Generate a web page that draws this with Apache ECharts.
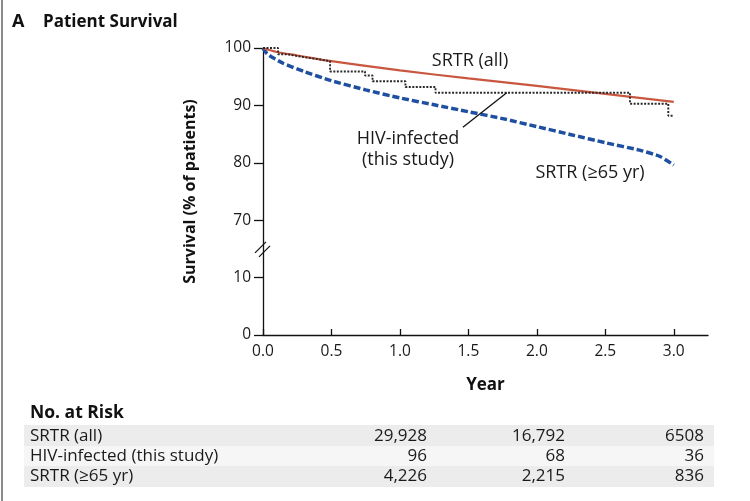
<!DOCTYPE html>
<html>
<head>
<meta charset="utf-8">
<script src="https://cdn.jsdelivr.net/npm/echarts@6/dist/echarts.min.js"></script>
<style>
html,body{margin:0;padding:0;background:#fff;}
#main{width:750px;height:501px;}
</style>
</head>
<body>
<div id="main"></div>
<script>
// ---- data ----
const srtrAllX = [0, 0.1, 0.25, 0.5, 1.0, 1.5, 2.0, 2.5, 3.0];
const srtrAllY = [100, 99.3, 98.7, 97.7, 96.1, 94.7, 93.4, 92.0, 90.6];

const srtr65X = [0, 0.03, 0.08, 0.15, 0.3, 0.5, 0.75, 1.0, 1.25, 1.5, 1.75, 2.0, 2.25, 2.5, 2.75, 2.9, 3.0];
const srtr65Y = [100, 99.0, 98.2, 97.3, 95.9, 94.3, 92.7, 91.3, 90.1, 88.9, 87.7, 86.3, 84.9, 83.5, 82.2, 81.1, 79.6];

const hivX = [0, 0.11, 0.18, 0.25, 0.33, 0.42, 0.49, 0.745, 0.80, 1.04, 1.26, 2.68, 2.96, 3.0];
const hivY = [100, 98.9, 98.6, 98.3, 98.0, 97.7, 95.9, 95.2, 94.2, 93.2, 92.2, 90.3, 88.2, 88.2];

const xTicks = [0, 0.5, 1.0, 1.5, 2.0, 2.5, 3.0];
const yTickValues = [0, 10, 70, 80, 90, 100];

const riskRowLabels = ['SRTR (all)', 'HIV-infected (this study)', 'SRTR (\u226565 yr)'];
const riskAll = ['29,928', '16,792', '6508'];
const riskHiv = ['96', '68', '36'];
const risk65 = ['4,226', '2,215', '836'];

// broken axis: 10..70 collapsed
function py(v) { return v >= 70 ? v - 50 : v; }
function labelOf(p) { const v = p > 10 ? p + 50 : p; return String(v); }
const yPlotTicks = yTickValues.map(py);

function pairs(xs, ys) { return xs.map((x, i) => [x, py(ys[i])]); }

const FONT = '"Open Sans", Lato, sans-serif';
const chart = echarts.init(document.getElementById('main'), null, {renderer: 'canvas'});

const riskRows = [riskAll, riskHiv, risk65];
const rowY = [436, 456, 476];
const colRight = [427, 565, 704];
const table = [];
table.push({type:'line', shape:{x1:2, y1:0, x2:2, y2:501}, style:{stroke:'#8a8a8a', lineWidth:2}});
table.push({type:'rect', shape:{x:24, y:425, width:690, height:21}, style:{fill:'#ececec'}});
table.push({type:'rect', shape:{x:24, y:446, width:690, height:20}, style:{fill:'#f6f6f6'}});
table.push({type:'rect', shape:{x:24, y:466, width:690, height:21}, style:{fill:'#ececec'}});
table.push({type:'text', style:{text:'No. at Risk', x:30, y:413, font:'bold 17.5px ' + FONT, fill:'#111', textVerticalAlign:'middle'}});
riskRowLabels.forEach((lab, i) => {
  table.push({type:'text', style:{text:lab, x:30, y:rowY[i], font:'17px ' + FONT, fill:'#1a1a1a', textVerticalAlign:'middle'}});
  riskRows[i].forEach((v, j) => {
    table.push({type:'text', style:{text:v, x:colRight[j], y:rowY[i], font:'17px ' + FONT, fill:'#1a1a1a', textAlign:'right', textVerticalAlign:'middle'}});
  });
});
// title
table.push({type:'text', style:{text:'A', x:12, y:22, font:'bold 18px ' + FONT, fill:'#111', textVerticalAlign:'middle'}});
table.push({type:'text', style:{text:'Patient Survival', x:43, y:22, font:'bold 17px ' + FONT, fill:'#111', textVerticalAlign:'middle'}});
// annotations
table.push({type:'text', style:{text:'SRTR (all)', x:470, y:61, font:'18px ' + FONT, fill:'#1a1a1a', textAlign:'center', textVerticalAlign:'middle'}});
table.push({type:'text', style:{text:'HIV-infected', x:408, y:139, font:'18px ' + FONT, fill:'#1a1a1a', textAlign:'center', textVerticalAlign:'middle'}});
table.push({type:'text', style:{text:'(this study)', x:408, y:160, font:'18px ' + FONT, fill:'#1a1a1a', textAlign:'center', textVerticalAlign:'middle'}});
table.push({type:'text', style:{text:'SRTR (\u226565 yr)', x:590, y:173, font:'18px ' + FONT, fill:'#1a1a1a', textAlign:'center', textVerticalAlign:'middle'}});

const option = {
  backgroundColor: '#fff',
  animation: false,
  grid: {left: 263, right: 42, top: 48, bottom: 166, containLabel: false},
  xAxis: {
    type: 'value', min: 0, max: 3.25, interval: 0.5,
    name: 'Year', nameLocation: 'middle', nameGap: 42,
    nameTextStyle: {fontFamily: FONT, fontWeight: 'bold', fontSize: 17, color: '#111'},
    axisLine: {onZero: false, lineStyle: {color: '#111', width: 1.3}},
    axisTick: {inside: true, length: 6, lineStyle: {color: '#111', width: 1.3}, customValues: xTicks},
    axisLabel: {fontFamily: FONT, fontSize: 15.5, color: '#1a1a1a', margin: 9, customValues: xTicks,
      formatter: v => v.toFixed(1)},
    splitLine: {show: false}
  },
  yAxis: {
    type: 'value', min: 0, max: 50, interval: 10,
    name: 'Survival (% of patients)', nameLocation: 'middle', nameGap: 65, nameRotate: 90,
    nameTextStyle: {fontFamily: FONT, fontWeight: 'bold', fontSize: 16, color: '#111'},
    axisLine: {show: true, onZero: false, lineStyle: {color: '#111', width: 1.3}},
    axisTick: {show: true, inside: false, length: 9, lineStyle: {color: '#111', width: 1.3}, customValues: yPlotTicks},
    axisLabel: {fontFamily: FONT, fontSize: 15.5, color: '#1a1a1a', margin: 12, customValues: yPlotTicks,
      formatter: v => labelOf(v)},
    splitLine: {show: false}
  },
  series: [
    {
      name: 'SRTR (all)', type: 'line', data: pairs(srtrAllX, srtrAllY), smooth: 0.3,
      showSymbol: false, lineStyle: {color: '#c9563f', width: 2.2}, z: 3
    },
    {
      name: 'SRTR (>=65 yr)', type: 'line', data: pairs(srtr65X, srtr65Y), smooth: 0.2,
      showSymbol: false, lineStyle: {color: '#1f4fa0', width: 3.5, type: [7, 3]}, z: 2
    },
    {
      name: 'HIV-infected (this study)', type: 'line', data: pairs(hivX, hivY), step: 'end',
      showSymbol: false, lineStyle: {color: '#2a2a2a', width: 1.9, type: [2, 1.5]}, z: 4,
      markLine: {
        silent: true, symbol: ['none', 'none'], label: {show: false},
        lineStyle: {color: '#111', width: 1.3, type: 'solid'},
        data: [[{coord: [1.46, py(86.2)]}, {coord: [1.78, py(92.2)]}]]
      }
    }
  ],
  graphic: table
};
chart.setOption(option);

// axis break mark
const p = chart.convertToPixel({gridIndex: 0}, [0, 15]);
chart.setOption({graphic: table.concat([
  {type:'rect', shape:{x:p[0]-2, y:p[1]-5, width:4, height:9}, style:{fill:'#fff'}},
  {type:'line', shape:{x1:p[0]-8, y1:p[1]+4, x2:p[0]+3, y2:p[1]-7}, style:{stroke:'#111', lineWidth:1.3}},
  {type:'line', shape:{x1:p[0]-4, y1:p[1]+8, x2:p[0]+7, y2:p[1]-3}, style:{stroke:'#111', lineWidth:1.3}}
])});
</script>
</body>
</html>
